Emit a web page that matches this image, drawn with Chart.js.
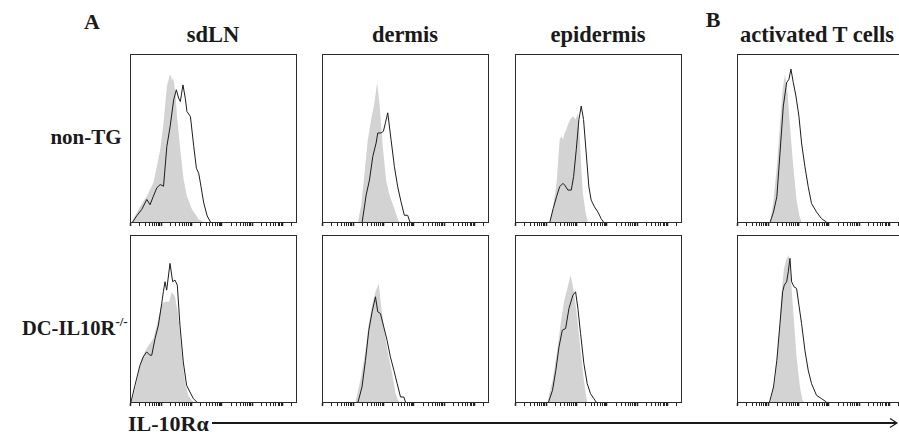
<!DOCTYPE html>
<html>
<head>
<meta charset="utf-8">
<script src="https://cdn.jsdelivr.net/npm/chart.js@4"></script>
<style>
  body { margin: 0; width: 899px; height: 434px; overflow: hidden; background: #fff; position: relative;
         font-family: "Liberation Serif", "Times New Roman", serif; font-weight: bold; color: #1a1a1a; }
  .lbl { position: absolute; font-size: 21px; line-height: 1; white-space: nowrap; }
  .hdr { font-size: 22.5px; }
  .ctr { transform: translateX(-50%); }
  canvas { position: absolute; }
  sup { font-size: 13px; vertical-align: 0; position: relative; top: -9px; }
</style>
</head>
<body>
<div class="lbl ctr" style="left:92px;top:11px;font-size:22px">A</div>
<div class="lbl ctr" style="left:713px;top:9px;font-size:22px">B</div>
<div class="lbl ctr hdr" style="left:213px;top:24px">sdLN</div>
<div class="lbl ctr hdr" style="left:405px;top:24px">dermis</div>
<div class="lbl ctr hdr" style="left:598px;top:24px">epidermis</div>
<div class="lbl ctr hdr" style="left:817px;top:24px">activated T cells</div>
<div class="lbl ctr" style="left:86px;top:127px">non-TG</div>
<div class="lbl" style="left:22px;top:318px;font-size:20.5px">DC-IL10R<sup>-/-</sup></div>
<div class="lbl" style="left:128px;top:413px;font-size:22px">IL-10Rα</div>
<svg style="position:absolute;left:0;top:0" width="899" height="434">
  <line x1="212" y1="423" x2="896" y2="423" stroke="#1a1a1a" stroke-width="2.2"/>
  <polyline points="890,418.5 897,423 890,427.5" fill="none" stroke="#1a1a1a" stroke-width="1.2"/>
</svg>

<canvas id="p1"></canvas><canvas id="p2"></canvas><canvas id="p3"></canvas><canvas id="p4"></canvas>
<canvas id="p5"></canvas><canvas id="p6"></canvas><canvas id="p7"></canvas><canvas id="p8"></canvas>

<script>
// IL-10Ra histograms: [channel, % of max], gray = isotype, black = stain
const sdlnNonTgIso = [[10,0],[61,9.3],[101,15.4],[141,23.3],[182,43],[202,59],[222,80.6],[238,86.9],[246,87.5],[252,84],[259,86],[273,78],[283,62.8],[303,43],[323,25.3],[343,15.4],[374,7.5],[414,1.6],[444,0]];
const sdlnNonTgStain = [[16,0],[40,3.6],[71,7.5],[101,13.4],[121,10.3],[141,15.4],[162,20.4],[182,22.3],[202,21.3],[222,45],[242,57],[263,72.7],[279,78.7],[293,73.7],[303,71.7],[319,81.6],[333,73.7],[343,65.8],[364,62.8],[384,45],[400,32],[414,29],[424,23.3],[444,11.4],[465,3.6],[485,0]];
const sdlnDcIso = [[10,0],[40,12],[70,26],[100,32],[141,38],[161,46],[191,59],[211,60],[237,60],[251,66],[271,63],[291,52],[311,30],[331,12],[351,4],[371,1],[386,0]];
const sdlnDcStain = [[6,0],[30,10],[60,22],[80,27],[100,30],[120,28],[131,28],[151,38],[171,46],[191,59],[201,66],[211,72],[221,67],[241,83],[257,72],[271,73],[285,70],[301,46],[321,24],[341,10],[361,6],[382,2],[402,0]];

const dermisNonTgIso = [[216,0],[236,10],[256,29],[276,49],[296,61],[316,71],[332,83],[346,71],[366,45],[386,25],[406,16],[436,8],[456,2],[466,0]];
const dermisNonTgStain = [[242,0],[266,16],[286,25],[306,39],[326,47],[336,53],[356,53],[370,54],[382,59],[396,65],[416,49],[436,33],[456,21],[476,12],[496,4],[516,4],[530,0]];
const dermisDcIso = [[201,0],[231,13],[262,31],[282,47],[302,58],[322,66],[342,71],[358,56],[378,41],[402,27],[423,17],[443,5],[459,1],[467,0]];
const dermisDcStain = [[217,0],[241,9],[262,25],[282,43],[302,54],[322,63],[336,54],[352,53],[372,45],[392,37],[412,27],[433,19],[453,11],[473,3],[493,3],[503,0]];

const epidermisNonTgIso = [[210,0],[230,9],[250,23],[269,49],[279,51],[289,49],[299,53],[309,55],[319,58],[333,61],[349,63],[365,61],[379,65],[389,53],[399,33],[409,17],[425,6],[439,0]];
const epidermisNonTgStain = [[210,0],[230,8],[250,15],[269,21],[289,23],[299,22],[319,19],[339,19],[353,27],[369,43],[385,61],[399,69],[413,61],[429,41],[445,21],[459,13],[479,9],[499,6],[519,2],[533,0]];
const epidermisDcIso = [[196,0],[226,13],[255,31],[275,47],[295,60],[315,68],[335,76],[355,66],[375,50],[395,31],[415,13],[429,3],[437,0]];
const epidermisDcStain = [[202,0],[226,7],[246,19],[265,33],[285,43],[305,44],[325,56],[349,64],[365,66],[379,56],[395,41],[415,23],[435,11],[455,5],[475,2],[489,0]];

const tcellNonTgIso = [[200,0],[220,13],[240,33],[259,59],[275,79],[289,88],[305,77],[319,57],[339,33],[359,13],[375,4],[389,0]];
const tcellNonTgStain = [[200,0],[220,6],[240,15],[259,41],[279,69],[299,83],[313,85],[325,91],[339,83],[355,75],[373,63],[389,47],[409,33],[429,21],[449,11],[479,6],[509,2],[539,0]];
const tcellDcIso = [[200,0],[230,13],[250,37],[269,66],[283,80],[299,86],[313,88],[323,76],[339,54],[359,27],[379,9],[395,1],[403,0]];
const tcellDcStain = [[196,0],[220,9],[240,25],[259,47],[275,66],[285,70],[299,72],[309,78],[319,86],[329,72],[343,69],[359,68],[373,58],[389,47],[409,31],[429,19],[449,11],[479,4],[509,2],[539,0]];

// log axis: decade positions in channel units, minor ticks at 2..9
const decadeChannels = [5, 188, 371, 554, 737, 920];
const decadeStep = 183;
const tickValues = [];
decadeChannels.forEach(d => {
  tickValues.push(d);
  for (let m = 2; m <= 9; m++) {
    const v = d + decadeStep * Math.log10(m);
    if (v <= 1000) tickValues.push(v);
  }
});

const panels = [
  { id: 'p1', left: 130, top: 54,  h: 168, iso: sdlnNonTgIso,      stain: sdlnNonTgStain },
  { id: 'p2', left: 322, top: 54,  h: 168, iso: dermisNonTgIso,    stain: dermisNonTgStain },
  { id: 'p3', left: 515, top: 54,  h: 168, iso: epidermisNonTgIso, stain: epidermisNonTgStain },
  { id: 'p4', left: 737, top: 54,  h: 168, iso: tcellNonTgIso,     stain: tcellNonTgStain },
  { id: 'p5', left: 130, top: 235, h: 167, iso: sdlnDcIso,         stain: sdlnDcStain },
  { id: 'p6', left: 322, top: 235, h: 167, iso: dermisDcIso,       stain: dermisDcStain },
  { id: 'p7', left: 515, top: 235, h: 167, iso: epidermisDcIso,    stain: epidermisDcStain },
  { id: 'p8', left: 737, top: 235, h: 167, iso: tcellDcIso,        stain: tcellDcStain }
];
const boxW = 166;

const edge = { display: true, ticks: { display: false }, grid: { display: false, drawTicks: false }, border: { color: '#2a2a2a', width: 1 } };

function makePanel(p) {
  const cv = document.getElementById(p.id);
  cv.width = boxW + 2;
  cv.height = p.h + 6;
  cv.style.left = (p.left - 1) + 'px';
  cv.style.top = (p.top - 1) + 'px';
  new Chart(cv, {
    type: 'scatter',
    data: {
      datasets: [
        { data: p.stain.map(([x, y]) => ({ x, y })), showLine: true, borderColor: '#1c1c1c', borderWidth: 1,
          pointRadius: 0, fill: false, order: 0 },
        { data: p.iso.map(([x, y]) => ({ x, y })), showLine: true, borderColor: 'rgba(0,0,0,0)', borderWidth: 1,
          backgroundColor: '#d3d3d3', pointRadius: 0, fill: 'origin', order: 1 }
      ]
    },
    options: {
      responsive: false, animation: false, devicePixelRatio: 1,
      layout: { padding: { top: 1, left: 1, right: 1, bottom: 1 } },
      plugins: { legend: { display: false }, tooltip: { enabled: false } },
      scales: {
        x: { type: 'linear', position: 'bottom', min: 0, max: 1000,
             afterBuildTicks: s => { s.ticks = tickValues.map(v => ({ value: v })); },
             ticks: { display: false },
             grid: { drawOnChartArea: false, tickLength: 4, tickColor: '#222',
                     tickWidth: c => decadeChannels.includes(c.tick && c.tick.value) ? 1.5 : 1 },
             border: { color: '#2a2a2a', width: 1 } },
        y: { ...edge, type: 'linear', position: 'left', min: 0, max: 100 },
        xTop: { ...edge, type: 'linear', position: 'top', min: 0, max: 1000 },
        yRight: { ...edge, type: 'linear', position: 'right', min: 0, max: 100 }
      }
    }
  });
}
panels.forEach(makePanel);
</script>
</body>
</html>
